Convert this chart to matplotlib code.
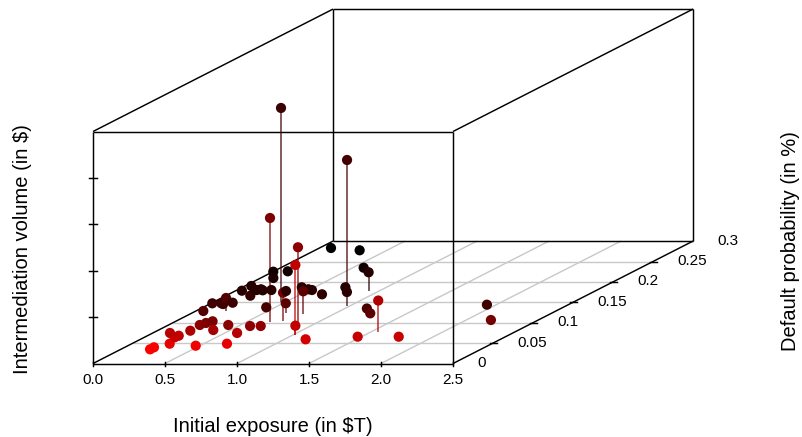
import matplotlib
matplotlib.use('Agg')
import matplotlib.pyplot as plt
from matplotlib.colors import LinearSegmentedColormap, Normalize

plt.rcParams['font.family'] = ['Liberation Sans', 'DejaVu Sans']

# Initial exposure, default probability, intermediation volume (z in tick units)
exposure = [.203, .203, .263, .471, .661, .210, .217, .119, .229, .217, .233, .256, .379, .415, .585, .580,
            .654, .051, .009, .072, .094, .205, .142, .043, .169, .044, .136, .156, .182, .238, .438, .002,
            .088, .080, .310, .575, .923, .097, .412, .485, .520, .648, .715, .790, .977, .786, .737, .353,
            .647, .899, 1.017, 1.017, 1.147, 1.473, 1.758, 1.548, 1.153, 1.242, 1.935, 2.171, .668, .464]
default_prob = [.0348, .0397, .0485, .0436, .0485, .0642, .0681, .0748, .0804, .0944, .0993, .1034, .0821, .0944,
                .0748, .0919, .0919, .1287, .1475, .1475, .1458, .1294, .149, .1784, .1662, .19, .1801, .1819,
                .1794, .1801, .1377, .225, .2096, .2831, .2775, .2348, .1784, .226, .1868, .1819, .1801, .1696,
                .1868, .1752, .1417, .1213, .1049, .1777, .1245, .0944, .0699, .0699, .0593, .0657, .0657, .0779,
                .1348, .123, .1441, .1066, .101, .1515]
volume = [0, 0, 0, 0, 0, 0, 0, 0, 0, 0, 0, 0, 0, 0, 0, 0,
          0, 0, 0, 0, 0, .274, 0, 0, 0, 0, 0, 0, 0, 0, 0, 0,
          0, 0, 0, 0, .397, 0, 0, 0, 0, 0, 0, 0, 3.14, .489, .603, 0,
          .203, 1.675, 1.509, .2, 0, 0, 0, .672, 0, 0, 0, 0, 2.248, 4.175]

x_ticks = [0.0, 0.5, 1.0, 1.5, 2.0, 2.5]
x_labels = ['0.0', '0.5', '1.0', '1.5', '2.0', '2.5']
y_ticks = [0, 0.05, 0.1, 0.15, 0.2, 0.25, 0.3]
y_labels = ['0', '0.05', '0.1', '0.15', '0.2', '0.25', '0.3']
z_ticks = [0, 1, 2, 3, 4, 5]

prob_colors = [(0.0, '#ff0000'), (0.117, '#ff0000'), (0.167, '#e40000'), (0.233, '#c00000'), (0.33, '#800000'),
               (0.47, '#420000'), (0.6, '#280000'), (0.77, '#100000'), (0.9, '#000000'), (1.0, '#000000')]
cmap = LinearSegmentedColormap.from_list('prob', prob_colors)
norm = Normalize(0, 0.3)


def project(x, y, z=0):
    # same oblique projection as scatterplot3d
    return 93 + 144 * x + 800 * y, 363.5 - 408 * y - 46.4 * z


def seg(a, b, **kw):
    ax.plot([a[0], b[0]], [a[1], b[1]], solid_capstyle='butt', **kw)


fig = plt.figure(figsize=(8.02, 4.37), dpi=100)
ax = fig.add_axes([0, 0, 1, 1])
ax.set_xlim(0, 802)
ax.set_ylim(437, 0)
ax.axis('off')

# grid on the floor
for t in x_ticks[1:-1]:
    seg(project(t, 0), project(t, 0.3), color='#c8c8c8', lw=1.0, zorder=1)
for t in y_ticks[1:-1]:
    seg(project(0, t), project(2.5, t), color='#c8c8c8', lw=1.0, zorder=1)

# back of the box
box = dict(color='black', lw=1.05, zorder=2)
seg(project(0, 0.3), project(2.5, 0.3), **box)
seg(project(0, 0.3), project(0, 0.3, 5), **box)
seg(project(0, 0.3, 5), project(2.5, 0.3, 5), **box)
seg(project(2.5, 0.3), project(2.5, 0.3, 5), **box)
seg(project(0, 0), project(0, 0.3), **box)
seg(project(2.5, 0), project(2.5, 0.3), **box)
seg(project(0, 0, 5), project(0, 0.3, 5), **box)
seg(project(2.5, 0, 5), project(2.5, 0.3, 5), **box)

# stems and points
for x, y, z in zip(exposure, default_prob, volume):
    if z > 0:
        seg(project(x, y), project(x, y, z), color=cmap(norm(y)), lw=1.2, alpha=0.75, zorder=3)
px = [project(x, y, z)[0] for x, y, z in zip(exposure, default_prob, volume)]
py = [project(x, y, z)[1] for x, y, z in zip(exposure, default_prob, volume)]
ax.scatter(px, py, c=default_prob, cmap=cmap, norm=norm, s=54, linewidths=0, zorder=4)

# front of the box
seg(project(0, 0), project(2.5, 0), **box)
seg(project(0, 0), project(0, 0, 5), **box)
seg(project(0, 0, 5), project(2.5, 0, 5), **box)
seg(project(2.5, 0), project(2.5, 0, 5), **box)

# ticks
for t, lab in zip(x_ticks, x_labels):
    tx, ty = project(t, 0)
    ax.plot([tx, tx], [ty - 2, ty + 2.5], color='black', lw=1.05, zorder=2)
    ax.text(tx, 380.5, lab, ha='center', va='center', fontsize=11)
for t, lab in zip(y_ticks, y_labels):
    tx, ty = project(2.5, t)
    if 0 < t < 0.3:
        ax.plot([tx - 3.5, tx + 3.5], [ty, ty], color='black', lw=1.05, zorder=2)
    ax.text(tx + 24, ty - 0.5, lab, ha='left', va='center', fontsize=11)
for t in z_ticks[1:-1]:
    tx, ty = project(0, 0, t)
    ax.plot([tx - 4, tx + 4], [ty, ty], color='black', lw=1.05, zorder=2)

ax.text(273, 427, 'Initial exposure (in \\$T)', ha='center', va='center', fontsize=14.5)
ax.text(23, 249, 'Intermediation volume (in \\$)', ha='center', va='center', rotation=90, fontsize=14.5)
ax.text(791, 241, 'Default probability (in %)', ha='center', va='center', rotation=90, fontsize=14.5)

fig.savefig('out.png', dpi=100)
